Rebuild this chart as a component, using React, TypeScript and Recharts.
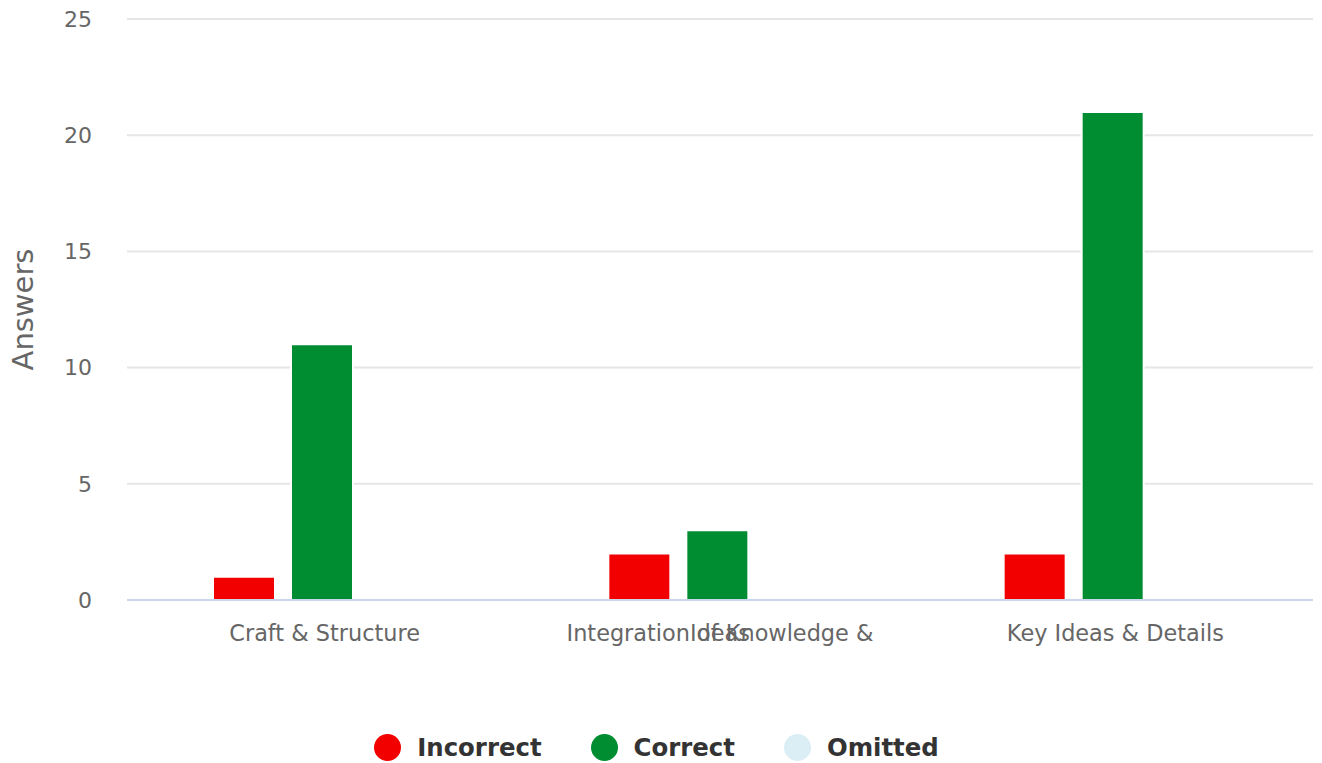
import React from "react";
import {
  BarChart,
  Bar,
  XAxis,
  YAxis,
  CartesianGrid,
  Legend,
} from "recharts";

const categories = [
  "Craft & Structure",
  "Integration of Knowledge & Ideas",
  "Key Ideas & Details",
];
const incorrect = [1, 2, 2];
const correct = [11, 3, 21];
const omitted = [0, 0, 0];
const yTicks = [0, 5, 10, 15, 20, 25];

const SERIES = [
  { key: "incorrect", name: "Incorrect", color: "#F20000" },
  { key: "correct", name: "Correct", color: "#008D32" },
  { key: "omitted", name: "Omitted", color: "#DBEEF5" },
];

const FONT = "'DejaVu Sans', sans-serif";

const data = categories.map((name, i) => ({
  name,
  incorrect: incorrect[i],
  correct: correct[i],
  omitted: omitted[i],
}));

// long labels get wrapped by the original, but both lines end up on the same row
function XTick(props: any) {
  const { x, y, payload } = props;
  const label: string = payload.value;
  const words = label.split(" ");
  const lines =
    label.length > 24 ? [words.slice(0, -1).join(" "), words[words.length - 1]] : [label];
  return (
    <g>
      {lines.map((line, i) => (
        <text
          key={i}
          x={x + 3}
          y={y + 41}
          textAnchor="middle"
          fill="#666666"
          fontSize={22.4}
          fontFamily={FONT}
        >
          {line}
        </text>
      ))}
    </g>
  );
}

function YLabel(props: any) {
  const { viewBox } = props;
  const cx = 23;
  const cy = viewBox.y + viewBox.height / 2;
  return (
    <text
      x={cx}
      y={cy}
      transform={`rotate(-90, ${cx}, ${cy})`}
      textAnchor="middle"
      dominantBaseline="central"
      fill="#666666"
      fontSize={29}
      fontFamily={FONT}
    >
      Answers
    </text>
  );
}

function LegendContent() {
  return (
    <div
      style={{
        height: 103,
        boxSizing: "border-box",
        paddingTop: 72,
        display: "flex",
        justifyContent: "center",
        fontFamily: FONT,
      }}
    >
      {SERIES.map((s, i) => (
        <div
          key={s.key}
          style={{
            display: "flex",
            alignItems: "center",
            height: 30,
            marginLeft: i === 0 ? 0 : 49,
          }}
        >
          <span
            style={{
              width: 27,
              height: 27,
              borderRadius: "50%",
              background: s.color,
              display: "inline-block",
              marginRight: 16,
            }}
          />
          <span style={{ fontSize: 24.4, fontWeight: "bold", color: "#333333" }}>
            {s.name}
          </span>
        </div>
      ))}
    </div>
  );
}

export default function App() {
  return (
    <div style={{ position: "absolute", left: 0, top: 0, background: "#fff" }}>
      <BarChart
        width={1322}
        height={763}
        data={data}
        margin={{ top: 19, right: 9, left: 0, bottom: 0 }}
        barSize={62}
        barGap={16}
      >
        <CartesianGrid
          vertical={false}
          stroke="#e6e6e6"
          strokeWidth={2}
        />
        <XAxis
          dataKey="name"
          height={60}
          tick={<XTick />}
          tickLine={false}
          tickSize={0}
          tickMargin={0}
          padding={{ left: -3, right: 3 }}
          axisLine={{ stroke: "#ccd6eb", strokeWidth: 2 }}
          interval={0}
        />
        <YAxis
          width={127}
          domain={[0, 25]}
          ticks={yTicks}
          axisLine={false}
          tickLine={false}
          tickSize={0}
          tickMargin={35}
          tick={{ fill: "#666666", fontSize: 22, fontFamily: FONT }}
          label={<YLabel />}
        />
        <Legend verticalAlign="bottom" content={<LegendContent />} />
        {SERIES.map((s) => (
          <Bar
            key={s.key}
            dataKey={s.key}
            name={s.name}
            fill={s.color}
            stroke="#ffffff"
            strokeWidth={2}
            isAnimationActive={false}
          />
        ))}
      </BarChart>
    </div>
  );
}
